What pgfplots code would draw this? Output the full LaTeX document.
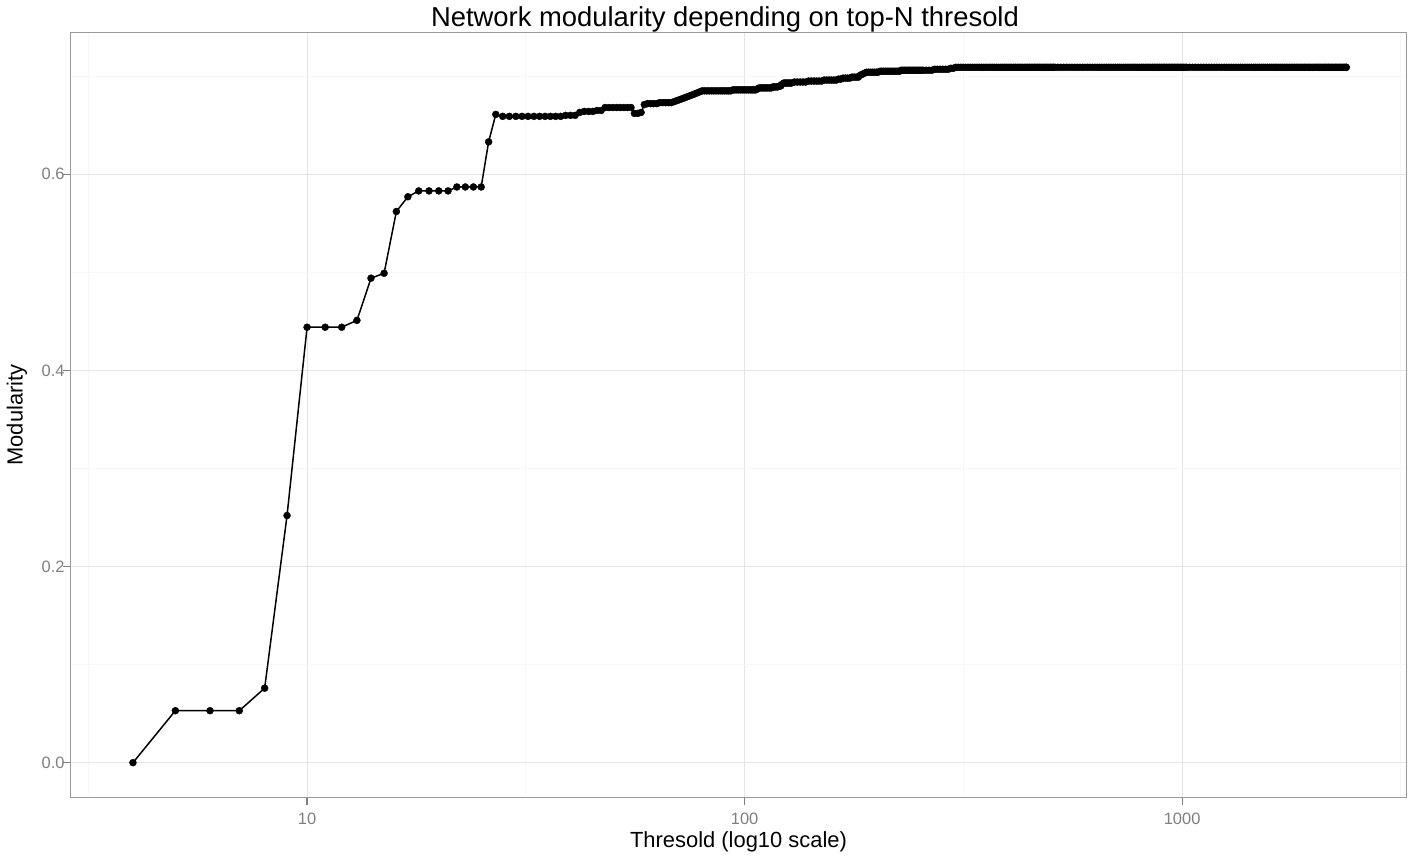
\documentclass[border=0pt]{standalone}
\usepackage{fontspec}
\setmainfont{Liberation Sans}
\usepackage{pgfplots}
\usepackage{pgfplotstable}
\pgfplotsset{compat=1.18}
\definecolor{grey50}{HTML}{7F7F7F}
\definecolor{grey90}{HTML}{E5E5E5}
\definecolor{grey98}{HTML}{F7F7F7}
\pgfplotstableread{
x y
4 0
5 0.053
6 0.053
7 0.053
8 0.076
9 0.252
10 0.444
11 0.444
12 0.444
13 0.451
14 0.494
15 0.499
16 0.562
17 0.577
18 0.583
19 0.583
20 0.583
21 0.583
22 0.587
23 0.587
24 0.587
25 0.587
26 0.633
27 0.661
28 0.659
29 0.659
30 0.659
31 0.659
32 0.659
33 0.659
34 0.659
35 0.659
36 0.659
37 0.659
38 0.659
39 0.660
40 0.660
41 0.660
42 0.663
43 0.664
44 0.664
45 0.664
46 0.665
47 0.665
48 0.668
49 0.668
50 0.668
51 0.668
52 0.668
53 0.668
54 0.668
55 0.668
56 0.662
57 0.662
58 0.663
59 0.671
60 0.672
61 0.672
62 0.672
63 0.672
64 0.673
65 0.673
66 0.673
67 0.673
68 0.673
69 0.674
70 0.675
71 0.676
72 0.677
73 0.678
74 0.679
75 0.680
76 0.681
77 0.682
78 0.683
79 0.684
80 0.685
81 0.685
82 0.685
83 0.685
84 0.685
85 0.685
86 0.685
87 0.685
88 0.685
89 0.685
90 0.685
91 0.685
92 0.685
93 0.685
94 0.686
95 0.686
96 0.686
97 0.686
98 0.686
99 0.686
100 0.686
101 0.686
102 0.686
103 0.686
104 0.686
105 0.686
106 0.686
107 0.687
108 0.688
109 0.688
110 0.688
111 0.688
112 0.688
113 0.688
114 0.688
115 0.688
116 0.689
117 0.689
118 0.689
119 0.689
120 0.690
121 0.690
122 0.692
123 0.693
124 0.693
125 0.693
126 0.693
127 0.693
128 0.693
130 0.694
132 0.694
134 0.694
136 0.694
138 0.694
140 0.695
142 0.695
144 0.695
146 0.695
148 0.695
150 0.695
152 0.696
154 0.696
156 0.696
158 0.696
160 0.696
162 0.696
164 0.697
166 0.697
168 0.698
170 0.698
172 0.698
174 0.698
176 0.699
178 0.699
180 0.699
182 0.699
184 0.701
186 0.702
188 0.703
190 0.704
192 0.704
194 0.704
196 0.704
198 0.704
200 0.704
202 0.704
204 0.705
206 0.705
208 0.705
210 0.705
212 0.705
214 0.705
216 0.705
218 0.705
220 0.705
222 0.705
224 0.705
226 0.705
228 0.706
230 0.706
232 0.706
234 0.706
236 0.706
238 0.706
240 0.706
242 0.706
244 0.706
246 0.706
248 0.706
250 0.706
252 0.706
254 0.706
256 0.706
260 0.706
264 0.706
268 0.706
272 0.707
276 0.707
280 0.707
284 0.707
288 0.707
292 0.707
296 0.708
300 0.708
304 0.709
308 0.709
312 0.709
316 0.709
320 0.709
324 0.709
328 0.709
332 0.709
336 0.709
340 0.709
344 0.709
348 0.709
352 0.709
356 0.709
360 0.709
364 0.709
368 0.709
372 0.709
376 0.709
380 0.709
384 0.709
388 0.709
392 0.709
396 0.709
400 0.709
404 0.709
408 0.709
412 0.709
416 0.709
420 0.709
424 0.709
428 0.709
432 0.709
436 0.709
440 0.709
444 0.709
448 0.709
452 0.709
456 0.709
460 0.709
464 0.709
468 0.709
472 0.709
476 0.709
480 0.709
484 0.709
488 0.709
492 0.709
496 0.709
500 0.709
504 0.709
508 0.709
512 0.709
520 0.709
528 0.709
536 0.709
544 0.709
552 0.709
560 0.709
568 0.709
576 0.709
584 0.709
592 0.709
600 0.709
608 0.709
616 0.709
624 0.709
632 0.709
640 0.709
648 0.709
656 0.709
664 0.709
672 0.709
680 0.709
688 0.709
696 0.709
704 0.709
712 0.709
720 0.709
728 0.709
736 0.709
744 0.709
752 0.709
760 0.709
768 0.709
776 0.709
784 0.709
792 0.709
800 0.709
808 0.709
816 0.709
824 0.709
832 0.709
840 0.709
848 0.709
856 0.709
864 0.709
872 0.709
880 0.709
888 0.709
896 0.709
904 0.709
912 0.709
920 0.709
928 0.709
936 0.709
944 0.709
952 0.709
960 0.709
968 0.709
976 0.709
984 0.709
992 0.709
1000 0.709
1008 0.709
1016 0.709
1024 0.709
1040 0.709
1056 0.709
1072 0.709
1088 0.709
1104 0.709
1120 0.709
1136 0.709
1152 0.709
1168 0.709
1184 0.709
1200 0.709
1216 0.709
1232 0.709
1248 0.709
1264 0.709
1280 0.709
1296 0.709
1312 0.709
1328 0.709
1344 0.709
1360 0.709
1376 0.709
1392 0.709
1408 0.709
1424 0.709
1440 0.709
1456 0.709
1472 0.709
1488 0.709
1504 0.709
1520 0.709
1536 0.709
1552 0.709
1568 0.709
1584 0.709
1600 0.709
1616 0.709
1632 0.709
1648 0.709
1664 0.709
1680 0.709
1696 0.709
1712 0.709
1728 0.709
1744 0.709
1760 0.709
1776 0.709
1792 0.709
1808 0.709
1824 0.709
1840 0.709
1856 0.709
1872 0.709
1888 0.709
1904 0.709
1920 0.709
1936 0.709
1952 0.709
1968 0.709
1984 0.709
2000 0.709
2016 0.709
2032 0.709
2048 0.709
2064 0.709
2080 0.709
2096 0.709
2112 0.709
2128 0.709
2144 0.709
2160 0.709
2176 0.709
2192 0.709
2208 0.709
2224 0.709
2240 0.709
2256 0.709
2272 0.709
2288 0.709
2304 0.709
2320 0.709
2336 0.709
2352 0.709
2368 0.709
2373 0.709
}\modtable
\begin{document}
\begin{tikzpicture}
\begin{axis}[
  scale only axis,
  width=1337bp, height=765bp,
  xmode=log, log basis x=10,
  xmin=2.872, xmax=3266,
  ymin=-0.0355, ymax=0.7445,
  xtick={10,100,1000}, xticklabels={10,100,1000},
  minor xtick={3.1623,31.623,316.23,3162.3},
  ytick={0,0.2,0.4,0.6}, yticklabels={0.0,0.2,0.4,0.6},
  minor ytick={0.1,0.3,0.5,0.7},
  tick pos=left,
  grid=both,
  major grid style={color=grey90, line width=1bp},
  minor grid style={color=grey98, line width=0.8bp},
  axis line style={color=grey50!80, line width=1bp},
  tick align=outside,
  major tick length=7bp,
  minor tick length=0pt,
  tick style={color=grey50, line width=1.2bp},
  /pgf/number format/assume math mode=true,
  ticklabel style={font=\fontsize{16.5}{16.5}\selectfont, text=grey50},
  xticklabel style={anchor=north, yshift=-5bp},
  yticklabel style={anchor=east, xshift=5bp},
  xlabel={Thresold (log10 scale)},
  ylabel={Modularity},
  title={Network modularity depending on top-N thresold},
  label style={font=\fontsize{22}{22}\selectfont},
  xlabel style={at={(axis description cs:0.5,-0.0575)}, anchor=center},
  ylabel style={at={(axis description cs:-0.03964,0.5)}, anchor=center},
  title style={at={(axis description cs:0.4899,1.0095)}, anchor=center, font=\fontsize{27.5}{27.5}\selectfont},
]
\addplot[black, line width=1.5bp, mark=*, mark size=3.5bp, mark options={solid, fill=black, draw=black, line width=0.4bp}] table {\modtable};
\end{axis}
\pgfresetboundingbox
\path[use as bounding box] (-70bp,-59.5bp) rectangle (1340bp,797.5bp);
\end{tikzpicture}
\end{document}
